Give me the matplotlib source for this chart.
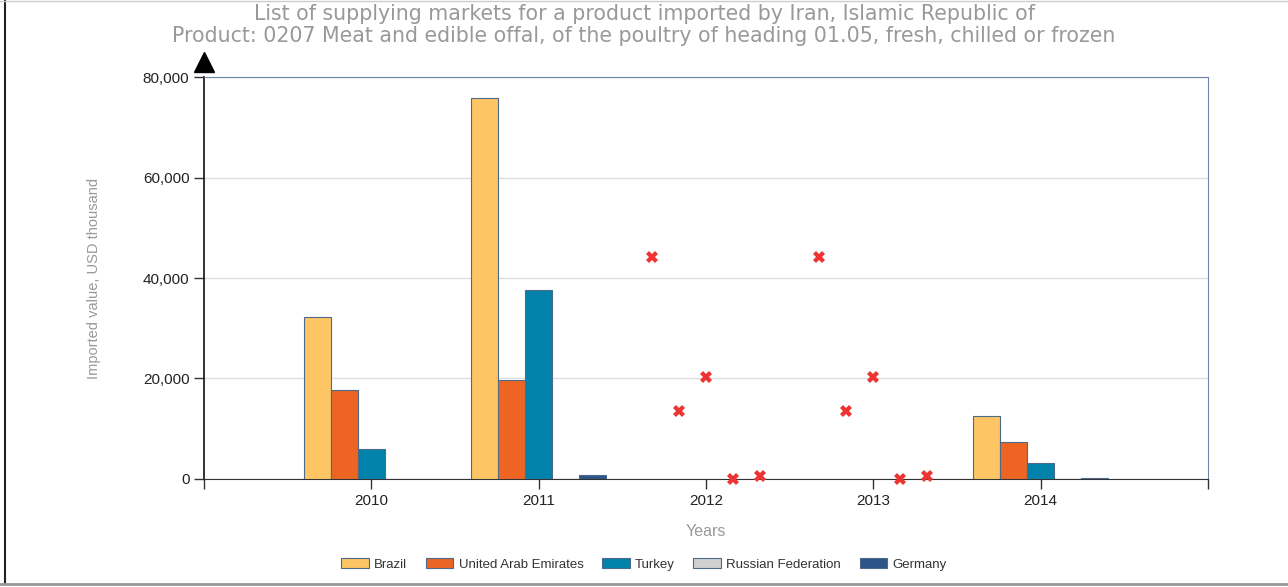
import numpy as np
import matplotlib.pyplot as plt
from matplotlib.ticker import FuncFormatter
from matplotlib.lines import Line2D

years = [2010, 2011, 2012, 2013, 2014]
countries = ["Brazil", "United Arab Emirates", "Turkey", "Russian Federation", "Germany"]
colors = ["#FDC563", "#EE6423", "#0082AB", "#D0D0D0", "#2C5587"]

# bar values, USD thousand (no bars drawn for 2012/2013)
brazil = [32200, 75800, 0, 0, 12500]
uae = [17700, 19700, 0, 0, 7300]
turkey = [6000, 37600, 0, 0, 3100]
russia = [0, 0, 0, 0, 0]
germany = [0, 800, 0, 0, 200]
bar_years = [2010, 2011, 2014]

# red cross markers shown for years without bars
cross_years = [2012, 2013]
cross_vals = [44200, 13500, 20300, 0, 600]

series = [brazil, uae, turkey, russia, germany]

fig = plt.figure(figsize=(12.88, 5.87), dpi=100)
ax = fig.add_axes([0.1584, 0.184, 0.7795, 0.6848])

w = 0.1617
offsets = np.arange(-2, 3) * w
for i, vals in enumerate(series):
    xs = [y + offsets[i] for y in bar_years]
    hs = [vals[years.index(y)] for y in bar_years]
    ax.bar(xs, hs, width=w, color=colors[i], edgecolor="#4d6a8a", linewidth=0.8, zorder=3)
    for cy in cross_years:
        ax.plot(cy + offsets[i], cross_vals[i], marker="X", color="#EE3333",
                markersize=8, markeredgewidth=0, zorder=4, clip_on=False)

ax.set_xlim(2009, 2015)
ax.set_ylim(0, 80000)
ax.set_xticks([2009] + years + [2015])
ax.set_xticklabels([""] + [str(y) for y in years] + [""])
ax.set_yticks([0, 20000, 40000, 60000, 80000])
ax.yaxis.set_major_formatter(FuncFormatter(lambda v, p: f"{int(v):,}"))
ax.tick_params(direction="out", length=7, width=1, color="#333333",
               labelsize=11, labelcolor="#222222")
for lab in ax.get_xticklabels() + ax.get_yticklabels():
    lab.set_fontfamily("Liberation Sans")
ax.grid(axis="y", color="#dddddd", linewidth=1, zorder=0)
ax.set_axisbelow(True)

ax.spines["left"].set_color("#111111")
ax.spines["bottom"].set_color("#333333")
ax.spines["top"].set_color("#6a86ad")
ax.spines["right"].set_color("#6a86ad")
ax.spines["left"].set_linewidth(1.2)

# arrow head on top of the y axis
ax.plot([0], [1.037], marker="^", color="black", markersize=15,
        transform=ax.transAxes, clip_on=False)

ax.set_ylabel("Imported value, USD thousand", color="#999999", fontsize=10.5,
              family="Liberation Sans", labelpad=30)
ax.set_xlabel("Years", color="#999999", fontsize=11.5, family="Liberation Sans", labelpad=12)

fig.text(0.5, 0.976, "List of supplying markets for a product imported by Iran, Islamic Republic of",
         ha="center", va="center", fontsize=14.8, color="#999999")
fig.text(0.5, 0.938, "Product: 0207 Meat and edible offal, of the poultry of heading 01.05, fresh, chilled or frozen",
         ha="center", va="center", fontsize=14.8, color="#999999")

handles = [plt.Rectangle((0, 0), 1, 1, facecolor=c, edgecolor="#4d6a8a", linewidth=0.8) for c in colors]
fig.legend(handles, countries, loc="center", bbox_to_anchor=(0.5, 0.039), ncol=5, frameon=False,
           prop={"family": "Liberation Sans", "size": 9.5}, handlelength=2.1, handleheight=0.85,
           columnspacing=1.4, handletextpad=0.4, labelcolor="#333333")

# outer frame lines
fig.add_artist(Line2D([0.004, 0.004], [0.005, 1.0], color="#222222", linewidth=1.5, transform=fig.transFigure))
fig.add_artist(Line2D([0, 1], [0.005, 0.005], color="#999999", linewidth=2, transform=fig.transFigure))
fig.add_artist(Line2D([0, 1], [0.999, 0.999], color="#cccccc", linewidth=1, transform=fig.transFigure))

fig.savefig("out.png", dpi=100)
